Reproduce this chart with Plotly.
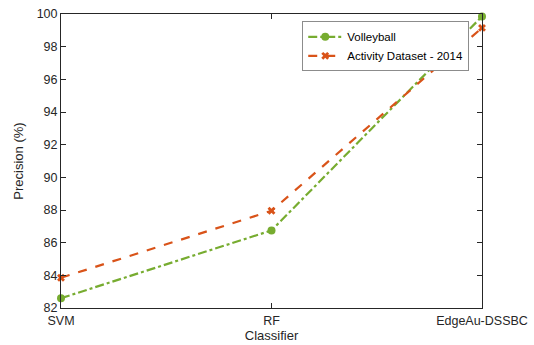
import plotly.graph_objects as go

classifiers = ["SVM", "RF", "EdgeAu-DSSBC"]
volleyball = [82.6, 86.75, 99.85]
activity_2014 = [83.85, 87.95, 99.15]
y_ticks = [82, 84, 86, 88, 90, 92, 94, 96, 98, 100]

green = "#77AC30"
orange = "#D95319"

fig = go.Figure()
fig.add_trace(go.Scatter(
    x=classifiers, y=volleyball, name="Volleyball",
    mode="lines+markers",
    line=dict(color=green, width=2.2, dash="dashdot"),
    marker=dict(symbol="circle", size=8, color=green),
    cliponaxis=False,
))
fig.add_trace(go.Scatter(
    x=classifiers, y=activity_2014, name="Activity Dataset - 2014",
    mode="lines+markers",
    line=dict(color=orange, width=2.2, dash="dash"),
    marker=dict(symbol="x", size=7, color=orange),
    cliponaxis=False,
))

fam = "Liberation Sans"
axis_font = dict(family=fam, size=12.5, color="#262626")

fig.update_layout(
    width=534, height=345,
    margin=dict(l=61, r=52, t=14, b=37),
    paper_bgcolor="white", plot_bgcolor="white",
    font=axis_font,
    showlegend=True,
    legend=dict(
        x=0.573, y=0.975, xanchor="left", yanchor="top",
        bgcolor="white", bordercolor="#8c8c8c", borderwidth=1,
        font=dict(family=fam, size=11.5, color="#000"),
        tracegroupgap=0, itemwidth=34,
    ),
    xaxis=dict(
        type="category", range=[0, 2], automargin=False,
        showline=True, linecolor="#262626", linewidth=1, mirror="ticks",
        ticks="inside", ticklen=5, tickcolor="#262626",
        showgrid=False, zeroline=False,
        title=dict(text="Classifier", standoff=2, font=dict(size=13)),
        tickfont=dict(size=12.5),
        ticklabelstandoff=1,
    ),
    yaxis=dict(
        range=[82, 100], tickvals=y_ticks, automargin=False,
        showline=True, linecolor="#262626", linewidth=1, mirror="ticks",
        ticks="inside", ticklen=5, tickcolor="#262626",
        showgrid=False, zeroline=False,
        title=dict(text="Precision (%)", standoff=10, font=dict(size=13)),
        tickfont=dict(size=12.5),
    ),
)

fig.write_html("out.html")
